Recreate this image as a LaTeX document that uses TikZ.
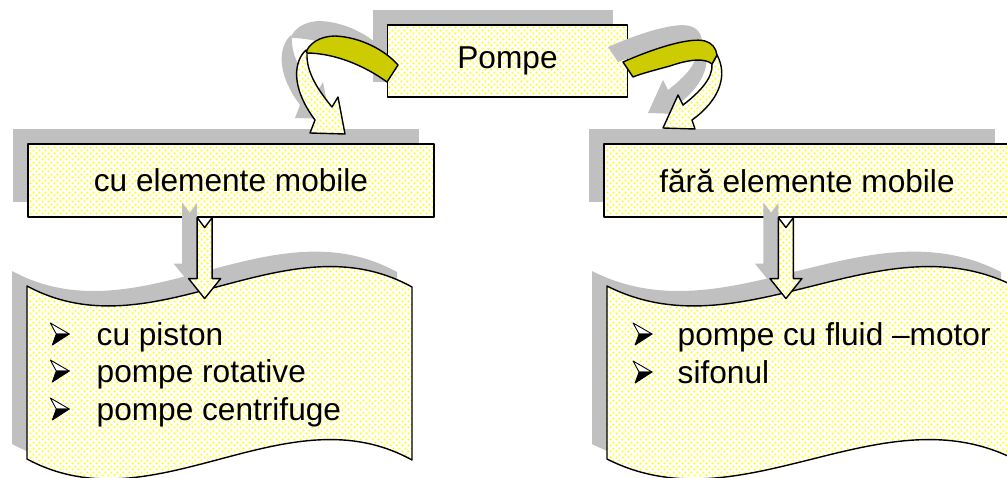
\documentclass[tikz,border=0pt]{standalone}
\usepackage{fontspec}
\setmainfont{Liberation Sans}
\usetikzlibrary{positioning,patterns}
\definecolor{shadowgray}{RGB}{192,192,192}
\definecolor{bandcolor}{RGB}{204,204,0}
% sparse staggered dots for the fills
\pgfdeclarepatternformonly{yellowdots}{\pgfqpoint{0pt}{0pt}}{\pgfqpoint{3.4pt}{3.4pt}}{\pgfqpoint{3.4pt}{3.4pt}}{
  \pgfpathcircle{\pgfqpoint{0.85pt}{0.85pt}}{0.6pt}
  \pgfpathcircle{\pgfqpoint{2.55pt}{2.55pt}}{0.6pt}
  \pgfusepath{fill}}
% curved arrows out of the top box: olive band + dotted head part
\newcommand{\leftband}{(306,53) .. controls (308,44) and (320,36) .. (335,36) .. controls (360,37) and (385,50) .. (398,65) -- (387,82) .. controls (365,66) and (335,53) .. (306,53) -- cycle}
\newcommand{\leftstrip}{(306,50) .. controls (295,60) and (289,85) .. (315,120) -- (310,133) -- (345,134) -- (338,97) -- (332,107) .. controls (318,90) and (306,72) .. (307,53) -- cycle}
\newcommand{\rightband}{(623,62) .. controls (655,48) and (690,37) .. (705,41) .. controls (712,43) and (716,48) .. (717,55) -- (712,64) .. controls (705,58) and (690,59) .. (670,66) .. controls (655,70) and (640,74) .. (633,77) -- cycle}
\newcommand{\rightstrip}{(717,55) .. controls (728,75) and (720,100) .. (692,120) -- (695,129) -- (663,128) -- (678,95) -- (683,105) .. controls (700,92) and (713,78) .. (712,64) -- cycle}

\begin{document}
\begin{tikzpicture}[
  x=0.02cm, y=-0.02cm, line width=0.8pt, line join=round,
  shadowed/.style={preaction={fill=shadowgray, draw=none, transform canvas={shift={(-8.5pt,8.5pt)}}}},
  dotfill/.style={preaction={fill=white}, pattern=yellowdots, pattern color=yellow},
  box/.style={draw, shadowed, dotfill, inner sep=0pt, font=\fontsize{18}{21.5}\selectfont},
  item/.style={anchor=base west, inner sep=0pt, font=\fontsize{18}{21.5}\selectfont},
  pics/drop/.style={code={
    \draw[shadowed, dotfill] (-7.5,0) -- (0,10) -- (7.5,0) -- (7.5,61) -- (16,61) -- (0,81) -- (-16,61) -- (-7.5,61) -- cycle;}},
  pics/bullet/.style={code={
    \draw[line width=0.5pt, fill=white] (0,-22) -- (19,-11) -- (6,-11) -- cycle;
    \draw[line width=0.5pt, fill=black] (6,-11) -- (19,-11) -- (2,0) -- cycle;}}]
\useasboundingbox (0,0) rectangle (1007,477);
\clip (0,0) rectangle (1007,477);
% waves holding the lists
\draw[shadowed, dotfill] (27,286) .. controls (155,355) and (285,217) .. (412,287) -- (412,460) .. controls (285,390) and (155,528) .. (27,459) -- cycle;
\draw[shadowed, dotfill] (607,286) .. controls (743,355) and (881,217) .. (1016,287) -- (1016,460) .. controls (881,390) and (743,528) .. (607,459) -- cycle;
% boxes
\node[box, minimum width=136.6pt, minimum height=40.8pt] (pompe) at (507.5,61) {Pompe};
\node[box, minimum width=231.3pt, minimum height=41.4pt] (cu) at (231,180.5) {cu elemente mobile};
\node[box, minimum width=231.3pt, minimum height=41.4pt] (fara) at (807,180.5) {fără elemente mobile};
% lists
\node[item] (p1) at (96,345) {cu piston};
\node[item] (p2) at (96,382) {pompe rotative};
\node[item] (p3) at (96,420) {pompe centrifuge};
\node[item] (f1) at (677,345) {pompe cu fluid –motor};
\node[item] (f2) at (677,383) {sifonul};
\pic at ([xshift=-26pt]p1.base west) {bullet};
\pic at ([xshift=-26pt]p2.base west) {bullet};
\pic at ([xshift=-26pt]p3.base west) {bullet};
\pic at ([xshift=-25pt]f1.base west) {bullet};
\pic at ([xshift=-25pt]f2.base west) {bullet};
% down arrows
\pic at ([xshift=-15pt]cu.south) {drop};
\pic at ([xshift=-12pt]fara.south) {drop};
% curved arrows
\fill[shadowgray, shift={(-15,-15)}] \leftband \leftstrip \rightband \rightstrip;
\draw[fill=bandcolor] \leftband;
\draw[dotfill] \leftstrip;
\draw[dotfill] \rightstrip;
\draw[fill=bandcolor] \rightband;
\end{tikzpicture}
\end{document}
